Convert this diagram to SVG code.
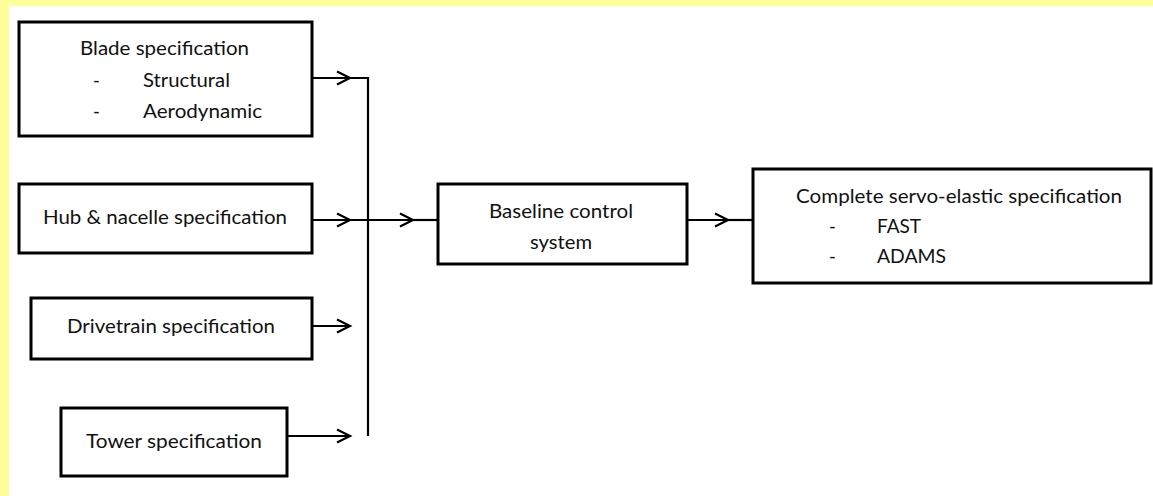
<svg xmlns="http://www.w3.org/2000/svg" width="1153" height="496" viewBox="0 0 1153 496">
<style>
.box{fill:#fff;stroke:#000;stroke-width:3}
.t{font-family:Lato,"Liberation Sans",Arial,sans-serif;font-size:18.5px;fill:#111}
.ln{fill:none;stroke:#000;stroke-width:2.2}
</style>
<defs>
<marker id="ah" markerUnits="userSpaceOnUse" markerWidth="16" markerHeight="16" refX="13" refY="7" orient="auto" overflow="visible">
<path d="M0,0.5 L13,7 L0,13.5" fill="none" stroke="#000" stroke-width="2.2"/>
</marker>
</defs>
<rect x="0" y="0" width="1153" height="496" fill="#fff"/>
<rect x="0" y="0" width="1153" height="6" fill="#ffff99"/>
<rect x="0" y="0" width="9" height="496" fill="#ffff99"/>
<g id="connectors">
<path class="ln" d="M312,78 H350" marker-end="url(#ah)"/>
<path class="ln" d="M350,78 H368 V436"/>
<path class="ln" d="M312,220 H350" marker-end="url(#ah)"/>
<path class="ln" d="M312,326 H350" marker-end="url(#ah)"/>
<path class="ln" d="M287,436 H350" marker-end="url(#ah)"/>
<path class="ln" d="M350,220 H413" marker-end="url(#ah)"/>
<path class="ln" d="M413,220 H438"/>
<path class="ln" d="M687,220 H728" marker-end="url(#ah)"/>
<path class="ln" d="M728,220 H753"/>
</g>
<g id="blade">
<rect class="box" x="19" y="22" width="293" height="114"/>
<text class="t" x="80" y="55" textLength="169" lengthAdjust="spacingAndGlyphs">Blade specification</text>
<text class="t" x="93" y="87">-</text>
<text class="t" x="143" y="87" textLength="87" lengthAdjust="spacingAndGlyphs">Structural</text>
<text class="t" x="93" y="118">-</text>
<text class="t" x="143" y="118" textLength="119" lengthAdjust="spacingAndGlyphs">Aerodynamic</text>
</g>
<g id="hub">
<rect class="box" x="19" y="184" width="293" height="69"/>
<text class="t" x="43" y="224" textLength="244" lengthAdjust="spacingAndGlyphs">Hub &amp; nacelle specification</text>
</g>
<g id="drivetrain">
<rect class="box" x="31" y="298" width="281" height="61"/>
<text class="t" x="67" y="333" textLength="208" lengthAdjust="spacingAndGlyphs">Drivetrain specification</text>
</g>
<g id="tower">
<rect class="box" x="61" y="408" width="226" height="68"/>
<text class="t" x="86" y="448" textLength="176" lengthAdjust="spacingAndGlyphs">Tower specification</text>
</g>
<g id="baseline">
<rect class="box" x="438" y="184" width="249" height="80"/>
<text class="t" x="489" y="218" textLength="144" lengthAdjust="spacingAndGlyphs">Baseline control</text>
<text class="t" x="530" y="249" textLength="62" lengthAdjust="spacingAndGlyphs">system</text>
</g>
<g id="complete">
<rect class="box" x="753" y="169" width="398" height="114"/>
<text class="t" x="796" y="203" textLength="326" lengthAdjust="spacingAndGlyphs">Complete servo-elastic specification</text>
<text class="t" x="829" y="233">-</text>
<text class="t" x="877" y="233" textLength="44" lengthAdjust="spacingAndGlyphs">FAST</text>
<text class="t" x="829" y="263">-</text>
<text class="t" x="877" y="263" textLength="69" lengthAdjust="spacingAndGlyphs">ADAMS</text>
</g>
</svg>
